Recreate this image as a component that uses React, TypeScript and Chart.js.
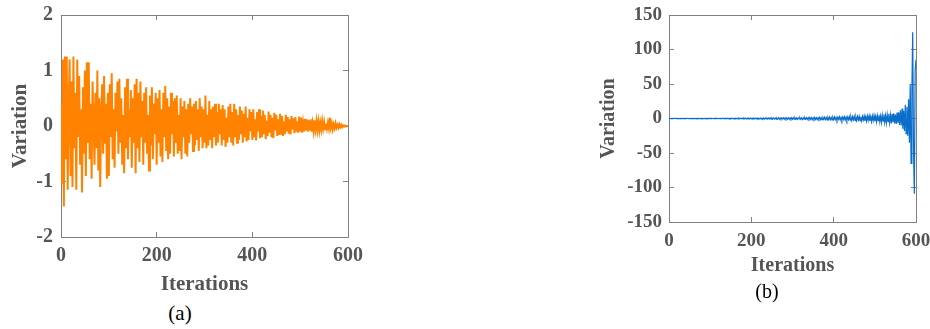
import React, { useEffect, useRef } from "react";
import { Chart, registerables } from "chart.js";

Chart.register(...registerables);

// ---------------- data ----------------
const ITER_STEP = 2; // one stored value every 2 iterations (0..600)
const X_MIN = 0;
const X_MAX = 600;
const X_STEP = 200;

const Y_A = { min: -2, max: 2, step: 1 };
const Y_B = { min: -150, max: 150, step: 50 };

const variationA: number[] = [
  0.4, -1.05, 1.2, -1.45, 1.25, -0.6, 1.25, -1.15, 0.3, 1.2,
  -0.9, 0.8, -1.1, 1.25, -0.4, 0.6, -1.15, 1.2, -0.2, 0.9,
  -0.7, 0.3, -1.2, 0.7, -0.5, 1.0, -0.9, 1.15, -0.3, 1.15,
  -0.6, 0.4, -0.95, 0.8, 0.1, -0.7, 0.6, -0.4, 1.0, -0.8,
  0.5, -1.1, 0.2, 0.75, -0.5, 0.9, -0.3, 0.4, -0.95, 0.6,
  -0.9, 0.75, -0.2, 0.95, -0.6, 0.3, -0.75, 0.6, -0.1, 0.8,
  -0.5, 0.85, -0.3, 0.5, -0.7, 0.2, -0.85, 0.7, -0.4, 0.85,
  -0.6, 0.3, -0.2, 0.65, -0.75, 0.5, -0.3, 0.75, -0.85, 0.85,
  -0.4, 0.6, -0.65, 0.8, -0.2, 0.45, -0.7, 0.6, -0.3, 0.7,
  -0.5, 0.2, -0.8, 0.55, -0.35, 0.7, -0.6, 0.4, -0.15, 0.6,
  -0.7, 0.5, -0.3, 0.65, -0.55, 0.3, -0.65, 0.6, -0.2, 0.72,
  -0.45, 0.5, -0.6, 0.35, -0.5, 0.6, -0.15, 0.45, -0.55, 0.5,
  -0.3, 0.55, -0.5, 0.2, -0.45, 0.5, -0.6, 0.35, -0.2, 0.45,
  -0.5, 0.3, -0.55, 0.4, -0.3, 0.5, -0.15, 0.35, -0.45, 0.4,
  -0.35, 0.45, -0.25, 0.3, -0.45, 0.5, -0.2, 0.35, -0.4, 0.3,
  -0.3, 0.55, -0.4, 0.2, -0.35, 0.45, -0.25, 0.3, -0.4, 0.35,
  -0.2, 0.4, -0.35, 0.25, -0.3, 0.4, -0.15, 0.3, -0.35, 0.38,
  -0.25, 0.3, -0.38, 0.15, -0.3, 0.35, -0.2, 0.4, -0.3, 0.25,
  -0.35, 0.4, -0.2, 0.3, -0.3, 0.2, -0.25, 0.35, -0.15, 0.28,
  -0.3, 0.22, -0.2, 0.35, -0.28, 0.15, -0.25, 0.3, -0.1, 0.25,
  -0.25, 0.3, -0.2, 0.12, -0.26, 0.25, -0.1, 0.3, -0.22, 0.18,
  -0.2, 0.28, -0.15, 0.2, -0.24, 0.1, -0.18, 0.26, -0.12, 0.2,
  -0.2, 0.15, -0.22, 0.24, -0.08, 0.2, -0.18, 0.12, -0.16, 0.22,
  -0.14, 0.18, -0.18, 0.08, -0.15, 0.2, -0.1, 0.16, -0.14, 0.12,
  -0.15, 0.18, -0.06, 0.14, -0.13, 0.16, -0.1, 0.08, -0.12, 0.17,
  -0.1, 0.15, -0.12, 0.06, -0.1, 0.13, -0.08, 0.12, -0.1, 0.1,
  -0.08, 0.12, -0.1, 0.05, -0.09, 0.1, -0.06, 0.09, -0.07, 0.08,
  -0.08, 0.06, -0.06, 0.09, -0.05, 0.07, -0.06, 0.04, -0.05, 0.06,
  -0.04, 0.15, -0.03, 0.05, -0.06, 0.03, -0.04, 0.05, -0.03, 0.02,
  -0.03, 0.03, -0.02, 0.02, -0.02, 0.01, -0.01, 0.01, -0.01, 0.0,
  0.0,
];

const variationB: number[] = [
  0, 0.1, -0.1, 0.15, -0.05, 0.1, -0.15, 0.05, 0.12, -0.1,
  0.08, -0.12, 0.1, -0.05, 0.15, -0.1, 0.05, -0.15, 0.1, -0.08,
  0.12, -0.1, 0.05, 0.15, -0.12, 0.1, -0.05, 0.1, -0.15, 0.12,
  -0.1, 0.2, -0.15, 0.1, -0.2, 0.15, -0.05, 0.2, -0.1, 0.15,
  -0.2, 0.1, -0.15, 0.25, -0.1, 0.2, -0.2, 0.1, -0.25, 0.2,
  -0.2, 0.3, -0.15, 0.25, -0.3, 0.2, -0.25, 0.35, -0.2, 0.3,
  -0.35, 0.25, -0.3, 0.2, -0.35, 0.4, -0.25, 0.3, -0.4, 0.35,
  -0.3, 0.4, -0.35, 0.3, -0.45, 0.4, -0.3, 0.45, -0.4, 0.35,
  -0.45, 0.5, -0.35, 0.4, -0.5, 0.45, -0.4, 0.5, -0.45, 0.4,
  -0.5, 0.55, -0.45, 0.5, -0.55, 0.45, -0.5, 0.6, -0.5, 0.55,
  -0.6, 0.5, -0.55, 0.65, -0.5, 0.6, -0.65, 0.55, -0.6, 0.7,
  -0.6, 0.65, -0.7, 0.6, -0.65, 0.75, -0.7, 0.65, -0.75, 0.7,
  -0.65, 0.8, -0.7, 0.75, -0.8, 0.7, -0.75, 0.85, -0.8, 0.75,
  -0.85, 0.8, -0.75, 0.9, -0.85, 0.8, -0.9, 0.85, -0.8, 0.95,
  -0.9, 0.85, -0.95, 1.0, -0.85, 0.9, -1.0, 0.95, -0.9, 1.05,
  -1.0, 1.1, -0.9, 1.2, -1.1, 0.8, -1.2, 1.0, -0.7, 1.3,
  -1.2, 0.9, -1.3, 1.1, -0.8, 1.4, -1.1, 1.0, -1.4, 1.2,
  -0.9, 1.5, -1.3, 1.1, -1.5, 0.9, -1.2, 1.6, -1.4, 1.0,
  -1.6, 1.3, -1.0, 1.7, -1.5, 1.2, -1.7, 1.4, -1.1, 1.8,
  -1.6, 1.3, -1.9, 1.5, -1.2, 2.0, -1.7, 1.4, -2.0, 1.6,
  -1.5, 2.2, -1.8, 1.3, -2.3, 1.9, -1.4, 2.4, -2.0, 1.6,
  -2.5, 2.1, -1.5, 2.6, -2.2, 1.8, -2.7, 2.3, -1.6, 2.8,
  -2.4, 2.0, -2.9, 2.5, -1.8,
  3.0, -2.6, 2.1, -3.2, 2.8, -2.0, 3.4, -3.0, 2.4, -3.5,
  3.0, -2.2, 3.6, -3.3, 2.6, -3.8, 3.4, -2.5, 4.0, -3.6,
  2.8, -4.2, 3.8, -3.0, 4.4,
  -4.0, 3.2, -4.8, 4.5, -3.0, 5.2, -4.6, 3.5, -5.5, 5.0,
  -3.8, 6.0, -5.4, 4.2, -6.2, 5.8, -4.5, 6.8, -6.0, 5.0,
  -7.0, 6.5, -5.2, 7.5, -7.2, 5.8, -8.0, 8.5, -6.5, 9.0,
  -9.5, 12.0, -10.0, 14.0, -15.0, 11.0, -18.0, 20.0, -22.0, 17.0,
  -25.0, 28.0, -35.0, 50.0, -65.0, 40.0, 125.0, -45.0, -109.0, 70.0,
  85.0,
];

// ---------------- styling ----------------
const FONT = "'Times New Roman', 'Liberation Serif', serif";
const AXIS_COLOR = "#808080";
const TEXT_COLOR = "#555555";

type PanelProps = {
  left: number;
  width: number;
  height: number;
  values: number[];
  color: string;
  lineWidth: number;
  yRange: { min: number; max: number; step: number };
  yAxisWidth: number;
  xAxisHeight: number;
  padTop: number;
  padRight: number;
  tickSize: number;
  titleSize: number;
  yTickPad: number;
  yTitlePad: number;
  xTickPad: number;
  xTitlePad: number;
};

function Panel(p: PanelProps) {
  const ref = useRef<HTMLCanvasElement | null>(null);
  useEffect(() => {
    if (!ref.current) return;
    const tickFont = { family: FONT, size: p.tickSize, weight: "bold" as const };
    const titleFont = { family: FONT, size: p.titleSize, weight: "bold" as const };
    const grid = { drawOnChartArea: false, tickLength: -5, color: AXIS_COLOR, lineWidth: 1 };
    const border = { color: AXIS_COLOR, width: 1 };
    const noPad = (s: any) => {
      s.paddingTop = 0;
      s.paddingBottom = 0;
      s.paddingLeft = 0;
      s.paddingRight = 0;
    };
    const chart = new Chart(ref.current, {
      type: "line",
      data: {
        datasets: [
          {
            data: p.values.map((v, i) => ({ x: i * ITER_STEP, y: v })),
            borderColor: p.color,
            borderWidth: p.lineWidth,
            pointRadius: 0,
            tension: 0,
            fill: false,
          },
        ],
      },
      options: {
        responsive: false,
        animation: false,
        devicePixelRatio: 1,
        layout: { padding: { left: 0, top: p.padTop, right: p.padRight, bottom: 0 } },
        plugins: { legend: { display: false }, tooltip: { enabled: false } },
        scales: {
          x: {
            type: "linear",
            position: "bottom",
            min: X_MIN,
            max: X_MAX,
            ticks: {
              stepSize: X_STEP,
              color: TEXT_COLOR,
              font: tickFont,
              padding: p.xTickPad,
              maxRotation: 0,
              autoSkip: false,
            },
            grid,
            border,
            title: {
              display: true,
              text: "Iterations",
              color: TEXT_COLOR,
              font: titleFont,
              padding: { top: 0, bottom: p.xTitlePad },
            },
            afterFit: (s: any) => {
              s.height = p.xAxisHeight;
              noPad(s);
            },
          },
          y: {
            type: "linear",
            position: "left",
            min: p.yRange.min,
            max: p.yRange.max,
            ticks: {
              stepSize: p.yRange.step,
              color: TEXT_COLOR,
              font: tickFont,
              padding: p.yTickPad,
              autoSkip: false,
            },
            grid,
            border,
            title: {
              display: true,
              text: "Variation",
              color: TEXT_COLOR,
              font: titleFont,
              padding: { top: p.yTitlePad, bottom: 0 },
            },
            afterFit: (s: any) => {
              s.width = p.yAxisWidth;
              noPad(s);
            },
          },
          x2: {
            type: "linear",
            position: "top",
            min: X_MIN,
            max: X_MAX,
            ticks: { display: false, stepSize: X_STEP },
            grid,
            border,
            afterFit: (s: any) => {
              s.height = 0;
              noPad(s);
            },
          },
          y2: {
            type: "linear",
            position: "right",
            min: p.yRange.min,
            max: p.yRange.max,
            ticks: { display: false, stepSize: p.yRange.step },
            grid,
            border,
            afterFit: (s: any) => {
              s.width = 0;
              noPad(s);
            },
          },
        },
      },
    });
    return () => chart.destroy();
  }, []);
  return (
    <canvas
      ref={ref}
      width={p.width}
      height={p.height}
      style={{ position: "absolute", left: p.left, top: 0, width: p.width, height: p.height }}
    />
  );
}

const captionStyle = (cx: number, cy: number, size: number): React.CSSProperties => ({
  position: "absolute",
  left: cx,
  top: cy,
  transform: "translate(-50%, -50%)",
  fontFamily: FONT,
  fontSize: size,
  lineHeight: 1,
  color: "#000",
  whiteSpace: "nowrap",
});

export default function App() {
  return (
    <div
      style={{
        position: "fixed",
        left: 0,
        top: 0,
        width: 930,
        height: 329,
        overflow: "hidden",
        background: "#fff",
      }}
    >
      <Panel
        left={0}
        width={380}
        height={300}
        values={variationA}
        color="#FF8300"
        lineWidth={2}
        yRange={Y_A}
        yAxisWidth={61}
        xAxisHeight={63}
        padTop={15}
        padRight={32}
        tickSize={20}
        titleSize={21}
        yTickPad={13}
        yTitlePad={8}
        xTickPad={12}
        xTitlePad={3}
      />
      <Panel
        left={560}
        width={380}
        height={300}
        values={variationB}
        color="#0A6ECB"
        lineWidth={1.2}
        yRange={Y_B}
        yAxisWidth={109}
        xAxisHeight={78}
        padTop={15}
        padRight={24}
        tickSize={19}
        titleSize={20}
        yTickPad={12}
        yTitlePad={37}
        xTickPad={13}
        xTitlePad={22}
      />
      <div style={captionStyle(180, 313, 21)}>(a)</div>
      <div style={captionStyle(767, 291, 20)}>(b)</div>
    </div>
  );
}
